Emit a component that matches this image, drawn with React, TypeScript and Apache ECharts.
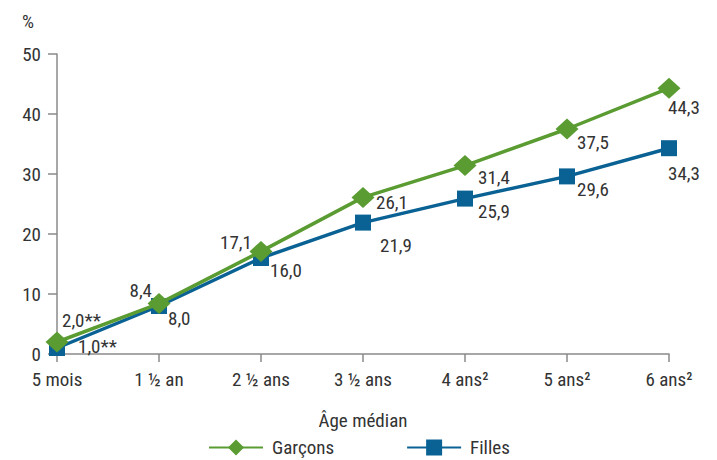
import React, { useEffect, useRef } from "react";
import * as echarts from "echarts";

const categories = ["5 mois", "1 ½ an", "2 ½ ans", "3 ½ ans", "4 ans²", "5 ans²", "6 ans²"];
const garconsValues = [2.0, 8.4, 17.1, 26.1, 31.4, 37.5, 44.3];
const fillesValues = [1.0, 8.0, 16.0, 21.9, 25.9, 29.6, 34.3];
const garconsLabels = ["2,0**", "8,4", "17,1", "26,1", "31,4", "37,5", "44,3"];
const fillesLabels = ["1,0**", "8,0", "16,0", "21,9", "25,9", "29,6", "34,3"];
const yTicks = [0, 10, 20, 30, 40, 50];

const FONT = "'Roboto Condensed', 'DejaVu Sans Condensed', sans-serif";
const FS = 19;
const GREEN = "#5a9c32";
const BLUE = "#0a6294";
const TEXT = "#333333";
const AXIS = "#8a8a8a";

// label placement per point: [align, dx, dy]
const garconsLabelPos: [string, number, number][] = [
  ["left", 5, -22],
  ["right", -7, -13],
  ["right", -9, -9],
  ["left", 13, 5],
  ["left", 13, 12],
  ["left", 10, 13],
  ["left", -1, 19],
];
const fillesLabelPos: [string, number, number][] = [
  ["left", 21, -2],
  ["left", 9, 12],
  ["left", 9, 12],
  ["left", 17, 23],
  ["left", 13, 13],
  ["left", 10, 13],
  ["left", -1, 25],
];

function buildData(values: number[], labels: string[], pos: [string, number, number][]) {
  return values.map((v, i) => ({
    value: v,
    label: {
      show: true,
      position: "inside",
      align: pos[i][0],
      verticalAlign: "middle",
      offset: [pos[i][1], pos[i][2]],
      formatter: labels[i],
      color: TEXT,
      fontFamily: FONT,
      fontSize: FS,
    },
  }));
}

export default function App() {
  const ref = useRef<HTMLDivElement>(null);
  useEffect(() => {
    if (!ref.current) return;
    const chart = echarts.init(ref.current, null, { renderer: "svg" });
    chart.setOption({
      animation: false,
      backgroundColor: "#ffffff",
      textStyle: { fontFamily: FONT },
      grid: { left: 57, right: 48, top: 54, bottom: 106, containLabel: false },
      legend: {
        data: ["Garçons", "Filles"],
        top: 433,
        left: 203,
        itemWidth: 54,
        itemHeight: 20,
        itemGap: 72,
        textStyle: { color: TEXT, fontSize: FS, fontFamily: FONT, padding: [0, 0, 0, 4] },
      },
      graphic: [
        {
          type: "text",
          left: 22,
          top: 12,
          style: { text: "%", fill: TEXT, font: `${FS}px ${FONT}` },
        },
      ],
      xAxis: {
        type: "category",
        data: categories,
        boundaryGap: false,
        name: "Âge médian",
        nameLocation: "middle",
        nameGap: 57,
        nameTextStyle: { color: TEXT, fontSize: FS, fontFamily: FONT },
        axisLine: { lineStyle: { color: AXIS, width: 1.5 } },
        axisTick: { show: true, length: 8, lineStyle: { color: AXIS, width: 1.5 } },
        axisLabel: { color: TEXT, fontSize: FS, fontFamily: FONT, margin: 16 },
        splitLine: { show: false },
      },
      yAxis: {
        type: "value",
        min: yTicks[0],
        max: yTicks[yTicks.length - 1],
        interval: 10,
        axisLine: { show: true, lineStyle: { color: AXIS, width: 1.5 } },
        axisTick: { show: true, length: 9, lineStyle: { color: AXIS, width: 1.5 } },
        axisLabel: { color: TEXT, fontSize: FS, fontFamily: FONT, margin: 16 },
        splitLine: { show: false },
      },
      series: [
        {
          name: "Filles",
          type: "line",
          data: buildData(fillesValues, fillesLabels, fillesLabelPos),
          symbol: "rect",
          symbolSize: 16,
          lineStyle: { color: BLUE, width: 3.5 },
          itemStyle: { color: BLUE },
          z: 2,
        },
        {
          name: "Garçons",
          type: "line",
          data: buildData(garconsValues, garconsLabels, garconsLabelPos),
          symbol: "diamond",
          symbolSize: [23, 21],
          lineStyle: { color: GREEN, width: 3.5 },
          itemStyle: { color: GREEN },
          z: 3,
        },
      ],
    });
    return () => chart.dispose();
  }, []);
  return <div ref={ref} style={{ width: 717, height: 460, position: "absolute", left: 0, top: 0 }} />;
}
